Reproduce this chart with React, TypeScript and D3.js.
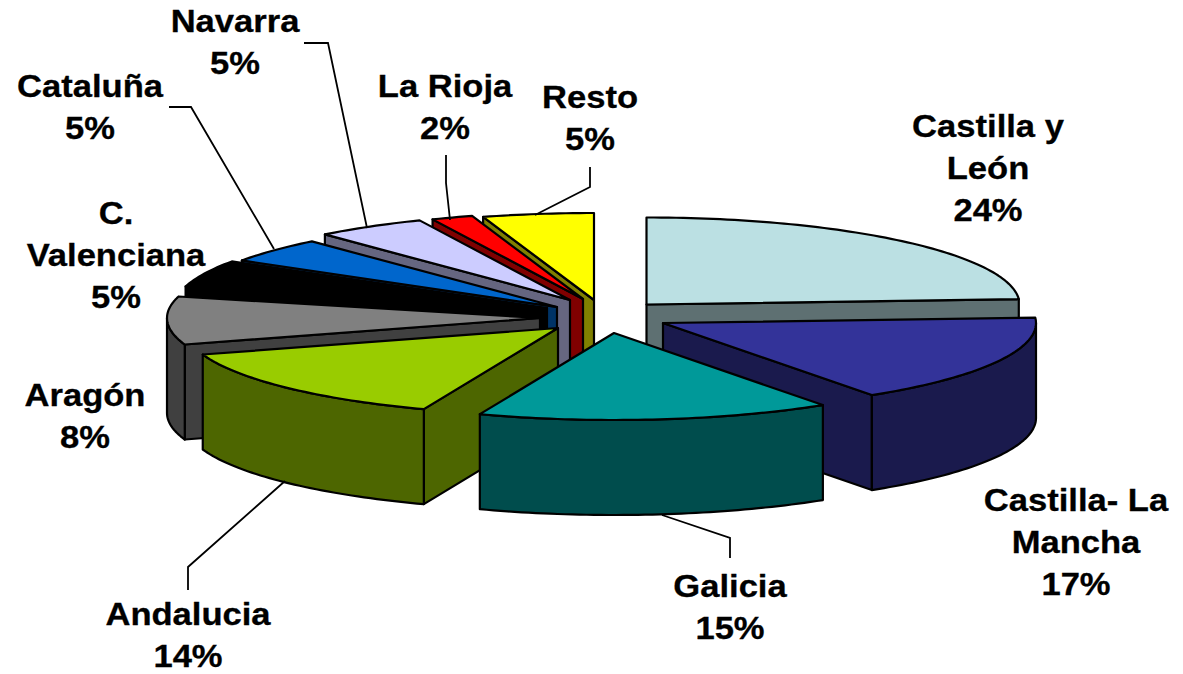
import React from "react";
import * as d3 from "d3";

// Data
const regions = ["Castilla y León", "Castilla- La Mancha", "Galicia", "Andalucia", "Aragón", "C. Valenciana", "Cataluña", "Navarra", "La Rioja", "Resto"];
const shares = [24.0, 16.5, 15.3, 14.2, 8.9, 5.0, 4.6, 4.8, 1.8, 4.8];
const percentLabels = ["24%", "17%", "15%", "14%", "8%", "5%", "5%", "5%", "2%", "5%"];
const topColors = ["#bbe0e3", "#333399", "#009999", "#99cc00", "#808080", "#000000", "#0066cc", "#ccccff", "#ff0000", "#ffff00"];

// Layout
const W = 1183, H = 674, RX = 373, RY = 87, DEPTH = 95;
const apexes: [number, number][] = [[646.5, 304.5], [663, 323], [614, 333], [558, 328], [540, 318], [547, 308], [557, 307], [570, 300], [583, 299], [594, 300]];
const paintOrder = [0, 9, 8, 7, 6, 5, 4, 3, 1, 2];
const labelLines: string[][] = [["Castilla y", "León"], ["Castilla- La", "Mancha"], ["Galicia"], ["Andalucia"], ["Aragón"], ["C.", "Valenciana"], ["Cataluña"], ["Navarra"], ["La Rioja"], ["Resto"]];
const labelPos: [number, number][] = [[988, 137], [1076, 511], [730, 597], [188, 625.3], [85, 406], [116, 224], [90, 97], [235, 32], [445, 97], [590, 108]];
const leaders: [number, number][][] = [
  [[304, 43], [328, 43], [367, 228]],
  [[169, 107], [191, 107], [274, 249]],
  [[446, 155], [446, 183], [450, 220]],
  [[590, 167], [590, 187], [535, 215]],
  [[662, 515], [730, 538], [730, 558]],
  [[285, 481], [188, 567], [188, 590]],
];
const LINE_H = 42;

const pieGen = d3.pie<number>().sort(null).startAngle(0).endAngle(2 * Math.PI);
const line = d3.line();

function pt(apex: [number, number], a: number, dz = 0): [number, number] {
  return [apex[0] + RX * Math.sin(a), apex[1] - RY * Math.cos(a) + dz];
}
function arcPts(apex: [number, number], a0: number, a1: number, dz = 0) {
  const n = Math.max(2, Math.ceil((a1 - a0) / 0.02));
  return d3.range(n + 1).map((i) => pt(apex, a0 + ((a1 - a0) * i) / n, dz));
}
const half = (c: string) => {
  const r = d3.rgb(c);
  return d3.rgb(r.r / 2, r.g / 2, r.b / 2).formatHex();
};

export default function App() {
  const arcs = pieGen(shares);
  const stroke = { stroke: "#000", strokeWidth: 2.2, strokeLinejoin: "round" as const };
  return (
    <svg width={W} height={H} viewBox={`0 0 ${W} ${H}`} style={{ position: "absolute", left: 0, top: 0, display: "block", background: "#fff" }}>
      {paintOrder.map((i) => {
        const { startAngle: a0, endAngle: a1 } = arcs[i];
        const apex = apexes[i];
        const side = half(topColors[i]);
        const faces: [number, number][][] = [];
        const radial = (a: number) => {
          const p = pt(apex, a);
          faces.push([apex, p, [p[0], p[1] + DEPTH], [apex[0], apex[1] + DEPTH]]);
        };
        if (Math.sin(a0) < -1e-6) radial(a0);
        if (Math.sin(a1) > 1e-6) radial(a1);
        const w0 = Math.max(a0, Math.PI / 2), w1 = Math.min(a1, (3 * Math.PI) / 2);
        if (w1 > w0) {
          faces.push([...arcPts(apex, w0, w1), ...arcPts(apex, w0, w1, DEPTH).reverse()]);
        }
        const top: [number, number][] = [apex, ...arcPts(apex, a0, a1)];
        return (
          <g key={regions[i]}>
            {faces.map((f, k) => (
              <path key={k} d={line(f) + "Z"} fill={side} {...stroke} />
            ))}
            <path d={line(top) + "Z"} fill={topColors[i]} {...stroke} />
          </g>
        );
      })}
      {leaders.map((l, k) => (
        <path key={k} d={line(l) as string} fill="none" stroke="#000" strokeWidth={1.8} />
      ))}
      {regions.map((r, i) => {
        const [x, y] = labelPos[i];
        const lines = [...labelLines[i], percentLabels[i]];
        return (
          <g key={r} transform={`translate(${x},${y}) scale(1.115,1)`} fontFamily="'Liberation Sans', Arial, sans-serif" fontWeight={700} fontSize={31} textAnchor="middle" fill="#000" stroke="#000" strokeWidth={0.3}>
            {lines.map((t, k) => (
              <text key={k} x={0} y={k * LINE_H}>{t}</text>
            ))}
          </g>
        );
      })}
    </svg>
  );
}
